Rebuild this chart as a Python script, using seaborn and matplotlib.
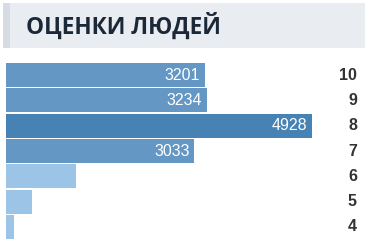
import matplotlib
matplotlib.use("Agg")
import matplotlib.pyplot as plt
import matplotlib.transforms as mtransforms
from matplotlib.patches import Rectangle
import seaborn as sns
import pandas as pd

# data
ratings = ["10", "9", "8", "7", "6", "5", "4"]
counts = [3201, 3234, 4928, 3033, 1127, 419, 129]
bar_colors = ["#6497c3", "#6497c3", "#4682b4", "#6497c3", "#9bc4e6", "#9bc4e6", "#9bc4e6"]
title = "ОЦЕНКИ ЛЮДЕЙ"

sns.set_style("white")
plt.rcParams["font.family"] = ["Liberation Sans", "DejaVu Sans"]

W, H = 367, 247
fig = plt.figure(figsize=(W / 100, H / 100), dpi=100)
fig.patch.set_facecolor("white")

# title banner
fig.patches.append(Rectangle((3 / W, 1 - 48 / H), 362 / W, 45 / H,
                             transform=fig.transFigure, facecolor="#e9ecf1",
                             edgecolor="none", zorder=0))
fig.patches.append(Rectangle((3 / W, 1 - 48 / H), 7 / W, 45 / H,
                             transform=fig.transFigure, facecolor="#d6dbe4",
                             edgecolor="none", zorder=1))
fig.text(26 / W, 1 - 26 / H, title, fontsize=16.3, fontweight="bold",
         family=["Open Sans", "DejaVu Sans"], color="#1b2838",
         ha="left", va="center")

ax_left, ax_right = 6, 330
ax_top, ax_bot = 62.4, 239.6
ax = fig.add_axes([ax_left / W, 1 - ax_bot / H, (ax_right - ax_left) / W, (ax_bot - ax_top) / H])

df = pd.DataFrame({"rating": ratings, "count": counts})
sns.barplot(data=df, y="rating", x="count", hue="rating", palette=bar_colors,
            order=ratings, hue_order=ratings, orient="h", width=0.95,
            legend=False, ax=ax, saturation=1, edgecolor="none")

ax.set_xlim(0, (ax_right - ax_left) / 0.0621)
ax.set_ylim(len(ratings) - 0.5, -0.5)
ax.set_axis_off()

for i, (r, c) in enumerate(zip(ratings, counts)):
    if c > 2000:
        ax.annotate(str(c), xy=(c, i), xytext=(-3.5, 0), textcoords="offset points",
                    ha="right", va="center", color="white", fontsize=11.5)

trans = mtransforms.blended_transform_factory(fig.transFigure, ax.transData)
for i, r in enumerate(ratings):
    ax.text(357 / W, i, r, transform=trans, ha="right", va="center",
            fontsize=11.5, fontweight="bold", color="#333333", clip_on=False)

fig.savefig("out.png", dpi=100, facecolor="white")
